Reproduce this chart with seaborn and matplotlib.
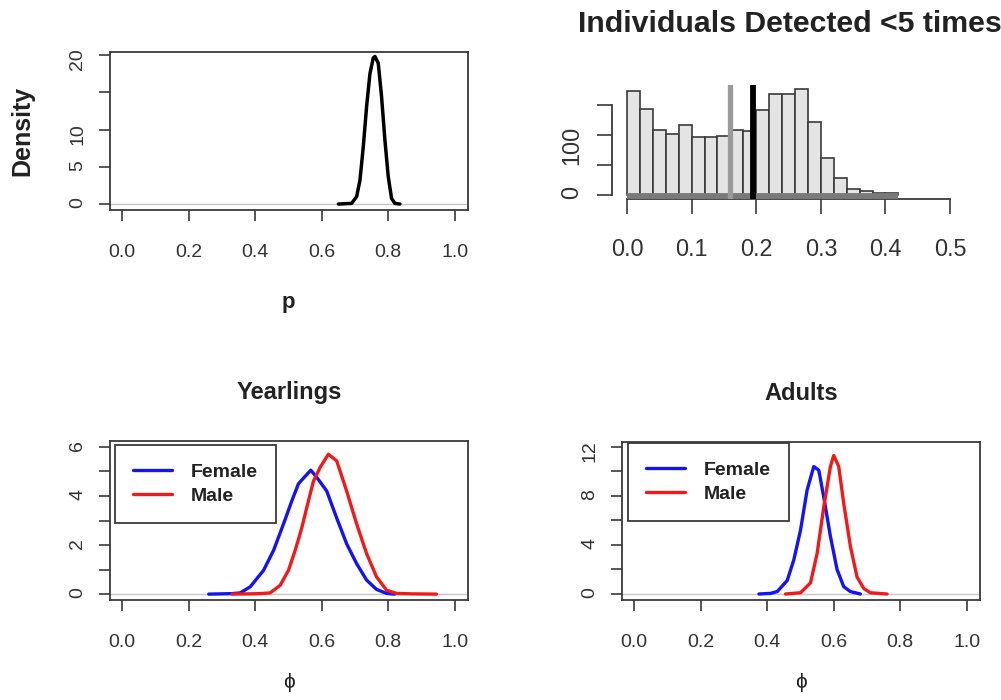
import numpy as np
import pandas as pd
import matplotlib
matplotlib.use("Agg")
import matplotlib.pyplot as plt
from matplotlib.lines import Line2D
import seaborn as sns

# ---------------- data ----------------
# detection probability p posterior density
p_x = [0.65, 0.69, 0.705, 0.715, 0.725, 0.735, 0.745, 0.755, 0.76, 0.77, 0.78, 0.79, 0.80, 0.81, 0.82, 0.835]
p_y = [0.0, 0.09, 1.0, 3.2, 7.7, 13.1, 17.5, 19.6, 19.8, 18.9, 14.4, 8.6, 3.7, 0.76, 0.09, 0.0]

# histogram: individuals detected < 5 times
hist_edges = [0.00, 0.02, 0.04, 0.06, 0.08, 0.10, 0.12, 0.14, 0.16, 0.18, 0.20,
              0.22, 0.24, 0.26, 0.28, 0.30, 0.32, 0.34, 0.36, 0.38, 0.40, 0.42]
hist_counts = [174, 144, 109, 102, 116, 96, 96, 99, 108, 106, 142,
               169, 168, 176, 122, 61, 29, 10, 6, 3, 3]
ref_grey = 0.160
ref_black = 0.195

# Yearlings survival
yr_f_x = [0.26, 0.30, 0.33, 0.355, 0.385, 0.425, 0.455, 0.485, 0.51, 0.53, 0.55, 0.567,
          0.585, 0.615, 0.645, 0.675, 0.705, 0.735, 0.765, 0.795, 0.82]
yr_f_y = [0.0, 0.01, 0.02, 0.05, 0.3, 0.97, 1.78, 2.86, 3.8, 4.5, 4.8, 5.05,
          4.76, 4.2, 3.1, 2.05, 1.24, 0.57, 0.19, 0.03, 0.0]
yr_m_x = [0.33, 0.38, 0.415, 0.445, 0.475, 0.50, 0.52, 0.54, 0.56, 0.575, 0.595, 0.62,
          0.645, 0.675, 0.705, 0.735, 0.765, 0.795, 0.825, 0.87, 0.945]
yr_m_y = [0.0, 0.01, 0.02, 0.05, 0.36, 0.97, 1.78, 2.7, 3.8, 4.6, 5.16, 5.7,
          5.43, 4.2, 2.86, 1.65, 0.7, 0.16, 0.03, 0.01, 0.0]

# Adults survival
ad_f_x = [0.375, 0.41, 0.43, 0.46, 0.48, 0.50, 0.52, 0.54, 0.555, 0.57, 0.59, 0.61, 0.63, 0.65, 0.68]
ad_f_y = [0.0, 0.05, 0.2, 1.1, 2.8, 5.2, 8.5, 10.4, 10.1, 7.9, 4.7, 2.0, 0.6, 0.2, 0.0]
ad_m_x = [0.455, 0.50, 0.53, 0.55, 0.57, 0.59, 0.60, 0.615, 0.63, 0.65, 0.67, 0.69, 0.71, 0.76]
ad_m_y = [0.0, 0.1, 0.9, 3.3, 7.1, 10.4, 11.3, 10.4, 7.4, 3.9, 1.4, 0.46, 0.1, 0.0]

prob_ticks = [0.0, 0.2, 0.4, 0.6, 0.8, 1.0]
prob_labels = ["0.0", "0.2", "0.4", "0.6", "0.8", "1.0"]
hist_xticks = [0.0, 0.1, 0.2, 0.3, 0.4, 0.5]
hist_xlabels = ["0.0", "0.1", "0.2", "0.3", "0.4", "0.5"]

# ---------------- styling ----------------
sns.set_style("white")
plt.rcParams["font.family"] = ["Liberation Sans", "DejaVu Sans"]

W, H = 1001, 700
fig = plt.figure(figsize=(W / 100, H / 100), dpi=100)
fig.patch.set_facecolor("white")

AX_COL = "#3a3a3a"
LAB_COL = "#333333"
BLUE = "#1414f0"
RED = "#f01a1a"


def px_axes(l, t, r, b):
    return fig.add_axes([l / W, 1 - b / H, (r - l) / W, (b - t) / H])


def r_box(ax, fs=14, tlen=8, xpad=16.5, ypad=9):
    for s in ax.spines.values():
        s.set_visible(True)
        s.set_color(AX_COL)
        s.set_linewidth(1.3)
    ax.tick_params(direction="out", length=tlen, width=1.2, color=AX_COL,
                   labelsize=fs, labelcolor=LAB_COL, bottom=True, left=True)
    ax.tick_params(axis="x", pad=xpad)
    ax.tick_params(axis="y", pad=ypad, labelrotation=90)
    ax.set_xlabel("")
    ax.set_ylabel("")
    ax.grid(False)


def ftext(x, y, s, **kw):
    fig.text(x / W, 1 - y / H, s, ha="center", va="center", **kw)


# ---------------- top-left: p density ----------------
ax1 = px_axes(110, 52, 468, 210)
ax1.axhline(0, color="#c4c4c4", lw=1, zorder=1)
sns.lineplot(x=p_x, y=p_y, ax=ax1, color="black", lw=2.5, estimator=None, sort=False)
ax1.set_xlim(-0.037, 1.04)
ax1.set_ylim(-0.8, 20.4)
ax1.set_xticks(prob_ticks, prob_labels)
ax1.set_yticks([0, 5, 10, 15, 20], ["0", "5", "10", "", "20"])
r_box(ax1)
ftext(22, 131, "Density", fontsize=18, fontweight="bold", rotation=90, color="#222222")
ftext(288, 302, "p", fontsize=16, fontweight="bold", color="#222222")

# ---------------- top-right: histogram ----------------
ax2 = px_axes(612, 85, 963, 199)
mids = [(a + b) / 2 for a, b in zip(hist_edges[:-1], hist_edges[1:])]
sns.histplot(x=mids, weights=hist_counts, bins=hist_edges, ax=ax2,
             color="#e4e4e4", edgecolor="#3a3a3a", linewidth=1.2, alpha=1)
ax2.hlines(-1.7, hist_edges[0], hist_edges[-1], color="#7a7a7a", lw=4.2, zorder=3)
ax2.axvline(ref_grey, color="#9a9a9a", lw=3.8, zorder=4)
ax2.axvline(ref_black, color="black", lw=4.2, zorder=4)
ax2.set_xlim(-0.0232, 0.520)
ax2.set_ylim(-6.7, 183.3)
ax2.set_xticks(hist_xticks, hist_xlabels)
ax2.set_yticks([0, 50, 100, 150], ["0", "", "100", ""])
for side in ["top", "right"]:
    ax2.spines[side].set_visible(False)
for side in ["left", "bottom"]:
    ax2.spines[side].set_visible(True)
    ax2.spines[side].set_color(AX_COL)
    ax2.spines[side].set_linewidth(1.3)
ax2.spines["left"].set_bounds(0, 150)
ax2.spines["bottom"].set_bounds(0, 0.5)
ax2.tick_params(direction="out", length=11, width=1.2, color=AX_COL,
                labelsize=16.8, labelcolor=LAB_COL, bottom=True, left=True)
ax2.tick_params(axis="x", pad=17)
ax2.tick_params(axis="y", pad=10, labelrotation=90)
ax2.set_xlabel("")
ax2.set_ylabel("")
ax2.grid(False)
ftext(790, 24, "Individuals Detected <5 times", fontsize=21.8, fontweight="bold", color="#222222")


# ---------------- bottom panels ----------------
def surv_panel(rect, fx, fy, mx, my, ylim, yticks, ylabels, title, legend_px):
    ax = px_axes(*rect)
    ax.axhline(0, color="#c4c4c4", lw=1, zorder=1)
    df = pd.DataFrame({
        "phi": list(fx) + list(mx),
        "dens": list(fy) + list(my),
        "sex": ["Female"] * len(fx) + ["Male"] * len(mx),
    })
    sns.lineplot(data=df, x="phi", y="dens", hue="sex", palette={"Female": BLUE, "Male": RED},
                 ax=ax, lw=2.4, estimator=None, sort=False, legend=False)
    ax.set_xlim(-0.037, 1.04)
    ax.set_ylim(*ylim)
    ax.set_xticks(prob_ticks, prob_labels)
    ax.set_yticks(yticks, ylabels)
    r_box(ax)
    handles = [Line2D([], [], color=BLUE, lw=2.4), Line2D([], [], color=RED, lw=2.4)]
    leg = ax.legend(handles, ["Female", "Male"], loc="upper left",
                    bbox_to_anchor=(legend_px[0] / W, 1 - legend_px[1] / H),
                    bbox_transform=fig.transFigure, borderaxespad=0,
                    frameon=True, fancybox=False, framealpha=1, edgecolor="#3a3a3a",
                    prop={"weight": "bold", "size": 14}, handlelength=2.0,
                    handletextpad=0.95, borderpad=0.95, labelspacing=0.3)
    leg.get_frame().set_linewidth(1.3)
    for t in leg.get_texts():
        t.set_color("#222222")
    cx = (rect[0] + rect[2]) / 2
    ftext(cx, 393, title, fontsize=17, fontweight="bold", color="#222222")
    ftext(cx, 683, "ϕ", fontsize=15, color="#222222")
    return ax


surv_panel((110, 441, 468, 600), yr_f_x, yr_f_y, yr_m_x, yr_m_y,
           (-0.24, 6.24), [0, 1, 2, 3, 4, 5, 6], ["0", "", "2", "", "4", "", "6"],
           "Yearlings", (115, 445))
surv_panel((622, 442, 980, 600), ad_f_x, ad_f_y, ad_m_x, ad_m_y,
           (-0.49, 12.4), [0, 2, 4, 6, 8, 10, 12], ["0", "", "4", "", "8", "", "12"],
           "Adults", (628, 443))

fig.savefig("out.png", dpi=100, facecolor="white")
